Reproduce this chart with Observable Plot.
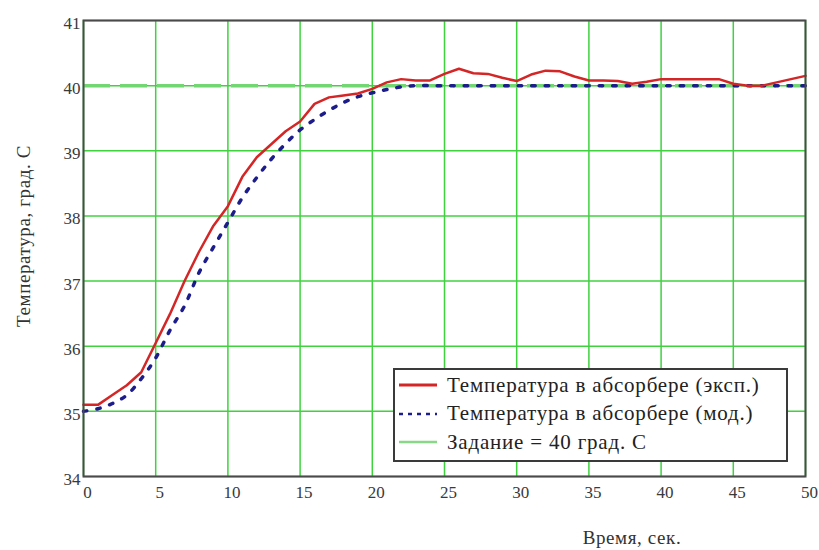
<!DOCTYPE html>
<html>
<head>
<meta charset="utf-8">
<script src="https://cdn.jsdelivr.net/npm/d3@7"></script>
<script src="https://cdn.jsdelivr.net/npm/@observablehq/plot@0.6"></script>
<style>
  html, body { margin: 0; padding: 0; background: #fff; }
  #wrap { position: relative; width: 819px; height: 550px; font-family: "Liberation Serif", "Times New Roman", Times, "DejaVu Serif", serif; }
  #chart { position: absolute; left: 0; top: 0; }
  .ytitle { position: absolute; left: 24px; top: 236px; transform: translate(-50%, -50%) rotate(-90deg); white-space: nowrap; font-size: 19px; letter-spacing: 0.6px; color: #333; }
  .xtitle { position: absolute; left: 632px; top: 538px; transform: translate(-50%, -50%); white-space: nowrap; font-size: 19px; letter-spacing: 0.6px; color: #333; }
  .legend { position: absolute; left: 393px; top: 368px; width: 391px; height: 90px; border: 2px solid #3a3a3a; background: #fff; }
  .row { position: absolute; left: 0; height: 26px; display: flex; align-items: center; font-size: 21px; letter-spacing: 0.8px; color: #222; white-space: nowrap; }
  .row svg { margin-left: 4px; margin-right: 10px; }
</style>
</head>
<body>
<div id="wrap">
  <div id="chart"></div>
  <div class="ytitle">Температура, град. С</div>
  <div class="xtitle">Время, сек.</div>
  <div class="legend" id="legend"></div>
</div>
<script>
// Time, seconds
const time = [0,1,2,3,4,5,6,7,8,9,10,11,12,13,14,15,16,17,18,19,20,21,22,23,24,25,26,27,28,29,30,31,32,33,34,35,36,37,38,39,40,41,42,43,44,45,46,47,48,49,50];
// Experimental temperature (red)
const tempExp = [35.1,35.1,35.25,35.4,35.6,36.05,36.5,37.0,37.45,37.85,38.15,38.6,38.9,39.1,39.3,39.45,39.72,39.82,39.85,39.88,39.95,40.05,40.1,40.08,40.08,40.18,40.26,40.19,40.18,40.12,40.07,40.17,40.23,40.22,40.14,40.08,40.08,40.07,40.03,40.06,40.1,40.1,40.1,40.1,40.1,40.03,40.0,40.0,40.05,40.1,40.15];
// Model temperature (blue dotted)
const tempModel = [35.0,35.04,35.12,35.25,35.5,35.82,36.25,36.62,37.13,37.52,37.9,38.28,38.59,38.87,39.11,39.32,39.48,39.62,39.74,39.83,39.89,39.94,39.98,40.0,40.0,40.0,40.0,40.0,40.0,40.0,40.0,40.0,40.0,40.0,40.0,40.0,40.0,40.0,40.0,40.0,40.0,40.0,40.0,40.0,40.0,40.0,40.0,40.0,40.0,40.0,40.0];
// Setpoint
const setpoint = [40];
// Ticks
const xTicks = [0,5,10,15,20,25,30,35,40,45,50];
const yTicks = [34,35,36,37,38,39,40,41];
// Legend labels
const legendLabels = ["Температура в абсорбере (эксп.)", "Температура в абсорбере (мод.)", "Задание = 40 град. С"];

const expData = time.map((t, i) => ({t, v: tempExp[i]}));
const modelData = time.map((t, i) => ({t, v: tempModel[i]}));

const serif = '"Liberation Serif", "Times New Roman", Times, "DejaVu Serif", serif';
const gridColor = "#3fd23f";
const chart = Plot.plot({
  width: 819,
  height: 550,
  marginLeft: 83,
  marginRight: 14,
  marginTop: 20,
  marginBottom: 74,
  style: {fontFamily: serif, fontSize: "17px", color: "#3a3a3a", background: "#fff"},
  x: {domain: [0, 50]},
  y: {domain: [34, 41]},
  marks: [
    Plot.gridX(xTicks, {stroke: gridColor, strokeOpacity: 1, strokeWidth: 1.5}),
    Plot.gridY(yTicks, {stroke: gridColor, strokeOpacity: 1, strokeWidth: 1.5}),
    Plot.ruleY(setpoint, {stroke: "#72d672", strokeWidth: 3.5, strokeDasharray: "27,10"}),
    Plot.line(modelData, {x: "t", y: "v", stroke: "#1c1c8a", strokeWidth: 3.5, strokeDasharray: "3.5,10", curve: "catmull-rom"}),
    Plot.line(expData, {x: "t", y: "v", stroke: "#d42626", strokeWidth: 2.5, curve: "linear"}),
    Plot.frame({stroke: "#4a4a4a", strokeWidth: 2}),
    Plot.axisX(xTicks, {tickSize: 0, tickPadding: 9, dx: 4, label: null, fontSize: 17, fontFamily: serif, tickFormat: "d"}),
    Plot.axisY(yTicks, {tickSize: 0, tickPadding: 3, dy: 3, label: null, fontSize: 17, fontFamily: serif, tickFormat: "d"})
  ]
});
document.getElementById("chart").appendChild(chart);

// Legend
const styles = [
  {stroke: "#d42626", width: 3, dash: null},
  {stroke: "#1c1c8a", width: 2.5, dash: "4,5"},
  {stroke: "#88d888", width: 2.5, dash: null}
];
const legend = document.getElementById("legend");
legendLabels.forEach((lab, i) => {
  const row = document.createElement("div");
  row.className = "row";
  row.style.top = (2 + i * 28.5) + "px";
  const ns = "http://www.w3.org/2000/svg";
  const svg = document.createElementNS(ns, "svg");
  svg.setAttribute("width", 38);
  svg.setAttribute("height", 10);
  const ln = document.createElementNS(ns, "line");
  ln.setAttribute("x1", 0); ln.setAttribute("x2", 38);
  ln.setAttribute("y1", 5); ln.setAttribute("y2", 5);
  ln.setAttribute("stroke", styles[i].stroke);
  ln.setAttribute("stroke-width", styles[i].width);
  if (styles[i].dash) ln.setAttribute("stroke-dasharray", styles[i].dash);
  svg.appendChild(ln);
  const span = document.createElement("span");
  span.textContent = lab;
  row.appendChild(svg);
  row.appendChild(span);
  legend.appendChild(row);
});
</script>
</body>
</html>
